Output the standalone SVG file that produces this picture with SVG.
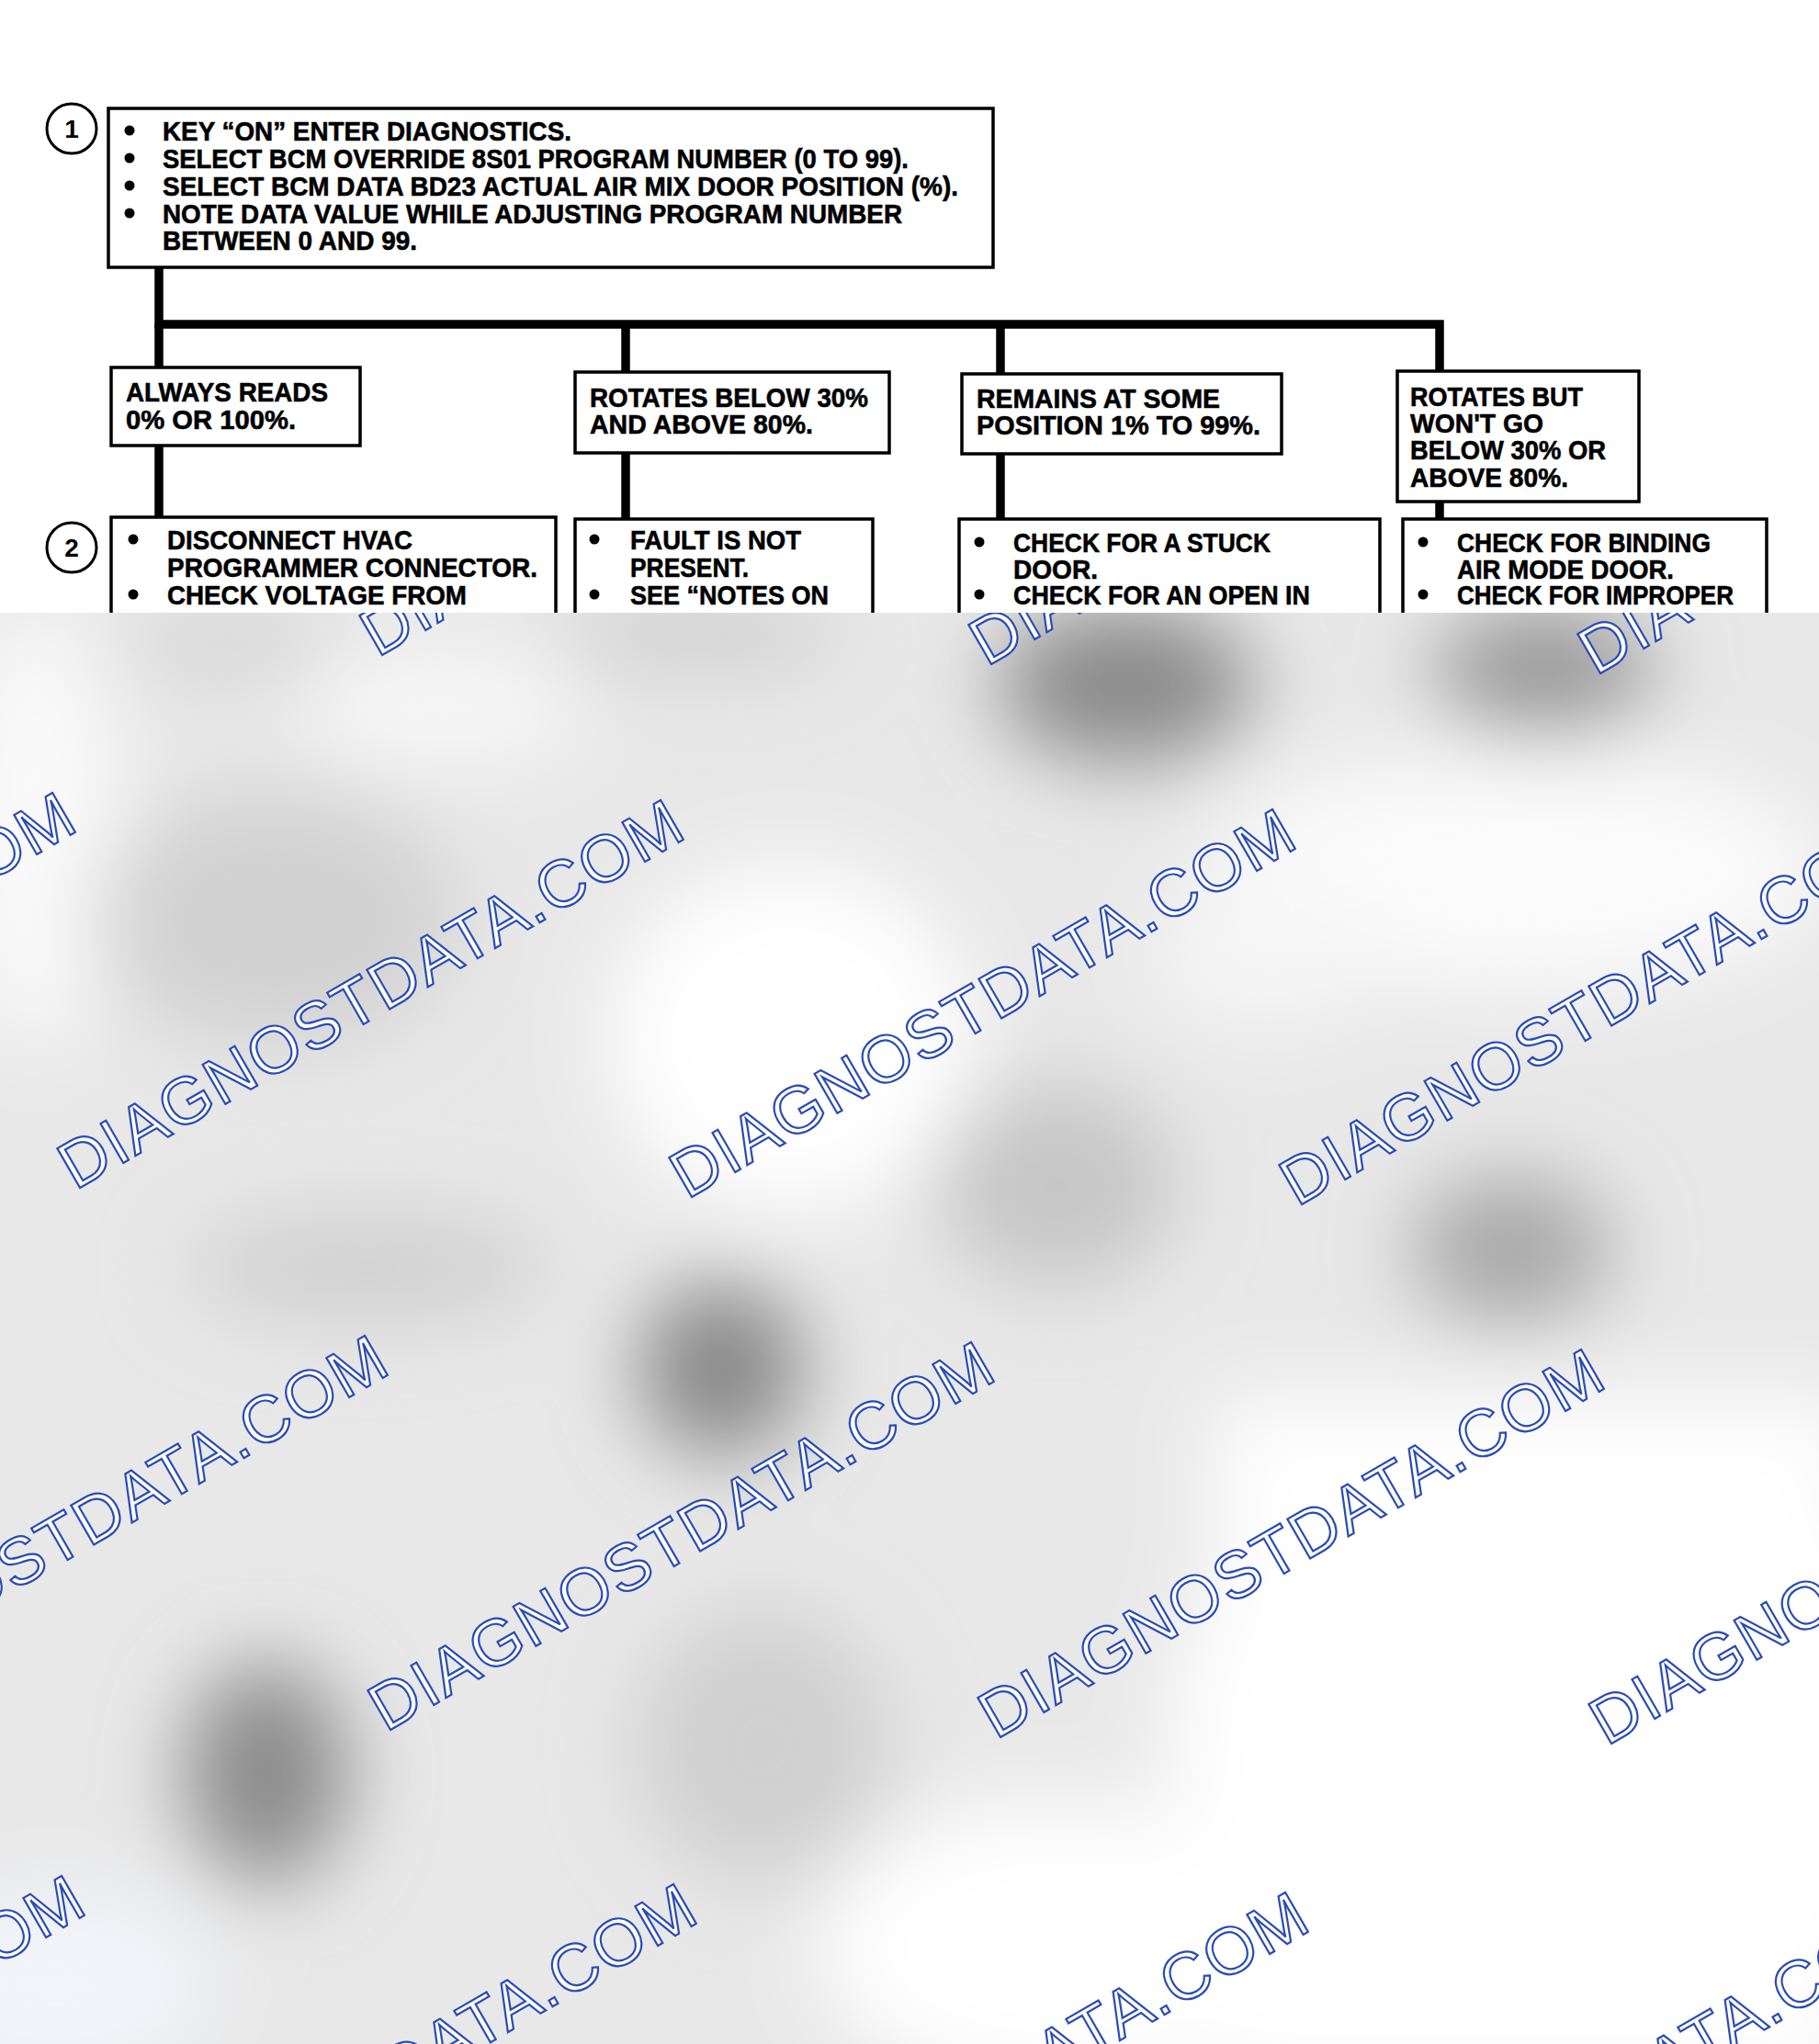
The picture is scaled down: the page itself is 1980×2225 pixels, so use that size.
<svg xmlns="http://www.w3.org/2000/svg" width="1980" height="2225" viewBox="0 0 1980 2225">
<defs>
<style>
.box{fill:#fff;stroke:#000;stroke-width:3.5}
.t{font-family:"Liberation Sans",Arial,sans-serif;font-weight:bold;font-size:30px;fill:#000;stroke:#000;stroke-width:0.6}
.n{font-family:"Liberation Sans",Arial,sans-serif;font-weight:bold;font-size:28px;fill:#000;text-anchor:middle}
.conn{stroke:#000;stroke-width:9.5;fill:none;stroke-linejoin:miter}
.bul{fill:#000}
.num{fill:#fff;stroke:#000;stroke-width:3}
.wm{font-family:"Liberation Sans",Arial,sans-serif;font-size:72px;fill:#fff;stroke:#2a4bb8;stroke-width:2.2}
</style>
<clipPath id="lower"><rect x="0" y="667" width="1980" height="1558"/></clipPath>
<filter id="blur" filterUnits="userSpaceOnUse" x="-300" y="400" width="2600" height="2100"><feGaussianBlur stdDeviation="45"/></filter>
</defs>
<rect width="1980" height="2225" fill="#fff"/>

<g id="connectors">
<path class="conn" d="M173 291 V353 H1567 V404"/>
<path class="conn" d="M173 353 V400"/>
<path class="conn" d="M681 353 V405"/>
<path class="conn" d="M1089 353 V407"/>
<path class="conn" d="M173 485 V563"/>
<path class="conn" d="M681 493 V565"/>
<path class="conn" d="M1089 494 V566"/>
<path class="conn" d="M1567 546 V565"/>
</g>

<g id="step1">
<circle class="num" cx="78" cy="140" r="27"/>
<text class="n" x="78" y="150">1</text>
</g>

<g id="node-start">
<rect class="box" x="118" y="118" width="963" height="173"/>
<circle class="bul" cx="141" cy="142" r="5.5"/>
<circle class="bul" cx="141" cy="172" r="5.5"/>
<circle class="bul" cx="141" cy="202" r="5.5"/>
<circle class="bul" cx="141" cy="232" r="5.5"/>
<text class="t" x="177" y="153" textLength="445" lengthAdjust="spacingAndGlyphs">KEY “ON” ENTER DIAGNOSTICS.</text>
<text class="t" x="177" y="183" textLength="812" lengthAdjust="spacingAndGlyphs">SELECT BCM OVERRIDE 8S01 PROGRAM NUMBER (0 TO 99).</text>
<text class="t" x="177" y="213" textLength="866" lengthAdjust="spacingAndGlyphs">SELECT BCM DATA BD23 ACTUAL AIR MIX DOOR POSITION (%).</text>
<text class="t" x="177" y="243" textLength="805" lengthAdjust="spacingAndGlyphs">NOTE DATA VALUE WHILE ADJUSTING PROGRAM NUMBER</text>
<text class="t" x="177" y="272" textLength="277" lengthAdjust="spacingAndGlyphs">BETWEEN 0 AND 99.</text>
</g>

<g id="node-always">
<rect class="box" x="121" y="400" width="271" height="85"/>
<text class="t" x="137" y="437" textLength="220" lengthAdjust="spacingAndGlyphs">ALWAYS READS</text>
<text class="t" x="137" y="467" textLength="185" lengthAdjust="spacingAndGlyphs">0% OR 100%.</text>
</g>

<g id="node-rotates">
<rect class="box" x="626" y="405" width="342" height="88"/>
<text class="t" x="642" y="443" textLength="303" lengthAdjust="spacingAndGlyphs">ROTATES BELOW 30%</text>
<text class="t" x="642" y="472" textLength="243" lengthAdjust="spacingAndGlyphs">AND ABOVE 80%.</text>
</g>

<g id="node-remains">
<rect class="box" x="1047" y="407" width="348" height="87"/>
<text class="t" x="1063" y="444" textLength="265" lengthAdjust="spacingAndGlyphs">REMAINS AT SOME</text>
<text class="t" x="1063" y="473" textLength="309" lengthAdjust="spacingAndGlyphs">POSITION 1% TO 99%.</text>
</g>

<g id="node-rotatesbut">
<rect class="box" x="1521" y="404" width="263" height="142"/>
<text class="t" x="1535" y="442" textLength="188" lengthAdjust="spacingAndGlyphs">ROTATES BUT</text>
<text class="t" x="1535" y="471" textLength="145" lengthAdjust="spacingAndGlyphs">WON'T GO</text>
<text class="t" x="1535" y="500" textLength="213" lengthAdjust="spacingAndGlyphs">BELOW 30% OR</text>
<text class="t" x="1535" y="530" textLength="172" lengthAdjust="spacingAndGlyphs">ABOVE 80%.</text>
</g>

<g id="step2">
<circle class="num" cx="78" cy="596" r="27"/>
<text class="n" x="78" y="606">2</text>
</g>

<g id="node-disconnect">
<rect class="box" x="121" y="563" width="484" height="200"/>
<circle class="bul" cx="145" cy="587" r="5.5"/>
<circle class="bul" cx="145" cy="647" r="5.5"/>
<text class="t" x="182" y="598" textLength="267" lengthAdjust="spacingAndGlyphs">DISCONNECT HVAC</text>
<text class="t" x="182" y="628" textLength="403" lengthAdjust="spacingAndGlyphs">PROGRAMMER CONNECTOR.</text>
<text class="t" x="182" y="658" textLength="326" lengthAdjust="spacingAndGlyphs">CHECK VOLTAGE FROM</text>
</g>

<g id="node-fault">
<rect class="box" x="626" y="565" width="324" height="200"/>
<circle class="bul" cx="647" cy="587" r="5.5"/>
<circle class="bul" cx="647" cy="647" r="5.5"/>
<text class="t" x="686" y="598" textLength="186" lengthAdjust="spacingAndGlyphs">FAULT IS NOT</text>
<text class="t" x="686" y="628" textLength="129" lengthAdjust="spacingAndGlyphs">PRESENT.</text>
<text class="t" x="686" y="658" textLength="216" lengthAdjust="spacingAndGlyphs">SEE “NOTES ON</text>
</g>

<g id="node-stuck">
<rect class="box" x="1044" y="565" width="458" height="200"/>
<circle class="bul" cx="1066" cy="590" r="5.5"/>
<circle class="bul" cx="1066" cy="647" r="5.5"/>
<text class="t" x="1103" y="601" textLength="280" lengthAdjust="spacingAndGlyphs">CHECK FOR A STUCK</text>
<text class="t" x="1103" y="630" textLength="92" lengthAdjust="spacingAndGlyphs">DOOR.</text>
<text class="t" x="1103" y="658" textLength="323" lengthAdjust="spacingAndGlyphs">CHECK FOR AN OPEN IN</text>
</g>

<g id="node-binding">
<rect class="box" x="1527" y="565" width="396" height="200"/>
<circle class="bul" cx="1549" cy="590" r="5.5"/>
<circle class="bul" cx="1549" cy="647" r="5.5"/>
<text class="t" x="1586" y="601" textLength="276" lengthAdjust="spacingAndGlyphs">CHECK FOR BINDING</text>
<text class="t" x="1586" y="630" textLength="236" lengthAdjust="spacingAndGlyphs">AIR MODE DOOR.</text>
<text class="t" x="1586" y="658" textLength="301" lengthAdjust="spacingAndGlyphs">CHECK FOR IMPROPER</text>
</g>

<g id="blurred-area" clip-path="url(#lower)">
<rect x="0" y="667" width="1980" height="1558" fill="#e8e8e8"/>
<g filter="url(#blur)">
<ellipse cx="40" cy="900" rx="90" ry="240" fill="#fafafa"/>
<ellipse cx="860" cy="1130" rx="200" ry="190" fill="#fff"/>
<ellipse cx="1650" cy="950" rx="340" ry="130" fill="#fbfbfb"/>
<ellipse cx="1700" cy="1900" rx="430" ry="380" fill="#fff"/>
<rect x="1320" y="1520" width="700" height="760" fill="#fff"/>
<ellipse cx="1150" cy="2120" rx="260" ry="160" fill="#fff"/>
<ellipse cx="480" cy="770" rx="160" ry="60" fill="#f8f8f8"/>
<ellipse cx="60" cy="2160" rx="170" ry="100" fill="#f3f5fb"/>
<ellipse cx="1380" cy="1040" rx="130" ry="80" fill="#f6f6f6"/>
<ellipse cx="1225" cy="745" rx="140" ry="85" fill="#8a8a8a"/>
<ellipse cx="1680" cy="730" rx="120" ry="70" fill="#999"/>
<ellipse cx="785" cy="1490" rx="90" ry="95" fill="#888"/>
<ellipse cx="290" cy="1930" rx="90" ry="120" fill="#8c8c8c"/>
<ellipse cx="1645" cy="1360" rx="110" ry="80" fill="#a8a8a8"/>
<ellipse cx="1150" cy="1290" rx="130" ry="110" fill="#c6c6c6"/>
<ellipse cx="760" cy="690" rx="160" ry="40" fill="#cfcfcf"/>
<ellipse cx="300" cy="1000" rx="200" ry="140" fill="#d2d2d2"/>
<ellipse cx="400" cy="1380" rx="200" ry="60" fill="#d0d0d0"/>
<ellipse cx="830" cy="1900" rx="140" ry="150" fill="#d0d0d0"/>
<ellipse cx="250" cy="700" rx="120" ry="40" fill="#d6d6d6"/>
</g>
<g id="watermarks">
<text class="wm" transform="translate(-253,706) rotate(-30)" textLength="770" lengthAdjust="spacing">DIAGNOSTDATA.COM</text>
<text class="wm" transform="translate(411,716) rotate(-30)" textLength="770" lengthAdjust="spacing">DIAGNOSTDATA.COM</text>
<text class="wm" transform="translate(1074,726) rotate(-30)" textLength="770" lengthAdjust="spacing">DIAGNOSTDATA.COM</text>
<text class="wm" transform="translate(1737,736) rotate(-30)" textLength="770" lengthAdjust="spacing">DIAGNOSTDATA.COM</text>
<text class="wm" transform="translate(-580,1288) rotate(-30)" textLength="770" lengthAdjust="spacing">DIAGNOSTDATA.COM</text>
<text class="wm" transform="translate(82,1296) rotate(-30)" textLength="770" lengthAdjust="spacing">DIAGNOSTDATA.COM</text>
<text class="wm" transform="translate(748,1306) rotate(-30)" textLength="770" lengthAdjust="spacing">DIAGNOSTDATA.COM</text>
<text class="wm" transform="translate(1412,1314) rotate(-30)" textLength="770" lengthAdjust="spacing">DIAGNOSTDATA.COM</text>
<text class="wm" transform="translate(-240,1879) rotate(-30)" textLength="770" lengthAdjust="spacing">DIAGNOSTDATA.COM</text>
<text class="wm" transform="translate(420,1886) rotate(-30)" textLength="770" lengthAdjust="spacing">DIAGNOSTDATA.COM</text>
<text class="wm" transform="translate(1084,1894) rotate(-30)" textLength="770" lengthAdjust="spacing">DIAGNOSTDATA.COM</text>
<text class="wm" transform="translate(1749,1901) rotate(-30)" textLength="770" lengthAdjust="spacing">DIAGNOSTDATA.COM</text>
<text class="wm" transform="translate(-570,2467) rotate(-30)" textLength="770" lengthAdjust="spacing">DIAGNOSTDATA.COM</text>
<text class="wm" transform="translate(96,2476) rotate(-30)" textLength="770" lengthAdjust="spacing">DIAGNOSTDATA.COM</text>
<text class="wm" transform="translate(762,2485) rotate(-30)" textLength="770" lengthAdjust="spacing">DIAGNOSTDATA.COM</text>
<text class="wm" transform="translate(1428,2494) rotate(-30)" textLength="770" lengthAdjust="spacing">DIAGNOSTDATA.COM</text>
</g>
</g>
</svg>
